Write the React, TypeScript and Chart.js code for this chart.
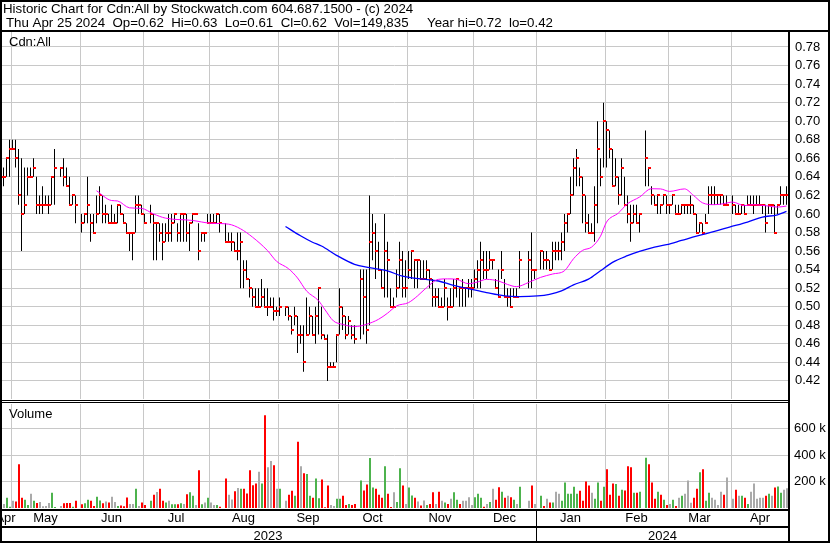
import React, { useEffect, useRef } from "react";
import { Chart, registerables } from "chart.js";

Chart.register(...registerables);

// ---------------- DATA (prices in cents, null = no trade) ----------------
const HI: (number | null)[] = [
  66,65,66,68,68,68,67,66,65,65,
  65,66,64,62,63,62,62,64,67,null,
  65,66,65,64,62,62,null,60,60,64,
  60,60,62,63,62,61,60,61,60,61,
  61,60,59,58,58,62,62,61,60,null,
  61,60,59,59,59,59,60,60,60,59,
  60,60,60,59,60,60,59,58,58,60,
  60,60,60,60,null,59,58,58,57,58,
  58,55,55,53,52,52,52,53,52,52,
  51,51,50,51,null,50,50,49,50,49,
  48,48,51,50,49,50,52,50,47,47,
  44,44,47,52,50,49,49,48,48,null,
  54,54,54,62,60,59,57,54,60,57,
  52,51,54,57,56,55,56,56,55,55,
  55,55,55,54,53,52,52,51,53,51,
  52,53,53,52,53,52,53,53,54,55,
  57,56,56,56,55,53,54,56,53,52,
  52,52,52,56,null,null,56,58,54,null,
  56,56,56,55,57,57,57,58,60,60,
  64,66,67,65,64,62,60,59,63,70,
  66,72,70,69,67,66,64,66,64,62,
  61,61,61,60,null,69,65,63,62,62,
  61,62,62,61,62,61,61,61,61,61,
  62,61,60,59,59,60,63,63,63,62,
  62,62,62,null,62,61,61,61,61,62,
  62,62,62,62,61,61,61,61,61,61,
  63,62,63,
];
const LO: (number | null)[] = [
  63,63,64,64,67,65,61,56,60,62,
  64,64,60,60,60,61,60,61,61,null,
  64,63,63,61,61,59,null,58,59,59,
  57,58,59,60,59,59,59,59,59,59,
  60,59,58,56,55,58,60,60,59,null,
  59,55,55,57,55,57,57,57,59,57,
  57,57,57,56,59,60,55,57,57,59,
  59,59,59,58,null,57,57,56,56,55,
  52,52,53,51,50,50,50,50,50,49,
  50,48.5,49,49,null,49,48.5,47,48,45,
  46,43,47,47,47,46,47,46.5,46.5,42,
  43.5,43.5,44,47,47.5,46.5,47,46.5,46,null,
  46.5,47,46,48,55,53,54,52,51,51,
  50,50,51,52,51,51,53,53,52,52,
  53,53,53,52,50,50,50,50,50,48.5,
  50,50,51,50,50,50,51,51,52,52,
  52,53,53,54,54,52,51,53,51,50,
  50,51,51,52,null,null,52,52,53,null,
  54,54,54,54,54,55,55,55,56,58,
  60,62,63,63,59,58,58,58,57,59,
  63,65,65,66,63,63,61,62,61,59,
  57,59,59,58,null,63,63,61,61,60,
  60,61,60,60,61,60,60,60,60,60,
  60,60,58,58,58,59,60,61,61,61,
  61,61,61,null,60,60,60,60,60,61,
  61,60,61,61,60,58,60,60,58,60,
  61,61,61,
];
const CL: (number | null)[] = [
  64,64,66,67,67,66,62,60,61,64,
  64,65,61,61,61,61,61,64,65,null,
  65,64,63,61,62,61,null,59,60,61,
  59,58,60,62,60,60,59,59,59,61,
  60,59,58,58,58,61,61,60,59,null,
  60,59,59,58,57,58,58,59,60,58,
  60,60,58,59,60,60,56,58,58,59,
  59,59,60,59,null,57,57,57,56,56,
  57,54,53,52,51,50,50,51,50,50,
  50,49.5,49.5,50,null,50,49,47.5,49,47,
  47,44,47,49,47,49,52,47,46.5,43.5,
  43.5,43.5,47,50,49,47,48.5,47,46.5,null,
  53,51,47.5,57,58,56,54,52,56,55,
  50,50,52,55,52,52,54,56,55,55,
  53,53,54,53,51,51,50,50,52,50,
  50,52,53,52,52,52,52,52,53,54,
  55,54,54,55,55,52,51,54,51,51,
  50,51,51,55,null,null,55,54,54,null,
  56,55,55,54,56,56,56,57,59,60,
  62,65,66,64,62,59,58,58,61,67,
  64,70,69,67,63,64,62,65,61,60,
  59,60,59,60,null,66,65,62,61,62,
  61,62,61,61,62,60,60,61,61,61,
  61,60,58,59,58,59,62,62,62,62,
  62,61,61,null,61,60,60,61,60,61,
  61,61,61,61,61,59,61,61,58,61,
  62,62,62,
];
// volume in thousands of shares, 0 = no trade
const VOL_K: number[] = [
  20,31,77,10,54,49,331,77,62,23,
  108,54,38,46,13,15,38,115,8,0,
  15,36,38,38,10,54,0,28,36,62,
  54,15,85,56,36,49,41,85,46,15,
  18,13,79,31,31,146,15,41,23,0,
  54,100,120,146,54,41,54,28,28,28,
  36,31,103,118,92,23,285,28,41,77,
  41,23,23,10,0,223,100,64,126,151,
  146,146,110,285,172,185,274,185,700,308,
  354,323,146,146,0,54,100,131,92,500,
  315,262,256,92,77,223,74,215,5,169,
  23,15,69,69,92,23,31,23,31,0,
  208,133,177,377,154,146,100,77,315,108,
  8,118,46,300,169,31,154,95,77,49,
  18,56,23,31,118,31,123,54,41,31,
  69,118,62,31,54,54,82,23,82,108,
  77,10,31,46,146,62,156,123,77,92,
  82,62,31,161,0,0,54,169,31,0,
  92,15,69,41,41,123,108,54,192,108,
  108,161,108,131,54,200,169,115,69,192,
  54,161,292,100,185,182,92,138,133,315,
  308,115,115,123,0,380,331,192,69,123,
  100,62,23,31,62,15,77,92,108,208,
  40,77,146,269,292,54,115,77,62,23,
  123,100,231,0,69,138,92,92,77,31,
  123,185,69,77,77,92,108,92,154,162,
  115,138,150,
];
const MA20_DAY = [32,37,39,43,47,51,55,64,70,76,80,84,89,92,96,99,102,106,108,111,114,118,122,126,129,132,136,139,142,146,149,152,156,159,162,166,169,172,176,180,184,188,191,194,197,200,202,206,209,213,217,220,223,228,231,234,238,241,244,248,251,256,259,262];
const MA20_VAL = [0.625,0.6145,0.614,0.6066,0.606,0.600,0.5955,0.593,0.590,0.589,0.584,0.575,0.5605,0.549,0.541,0.531,0.517,0.5065,0.4975,0.4846,0.481,0.4785,0.481,0.4864,0.493,0.5008,0.5044,0.5116,0.5205,0.5295,0.530,0.5295,0.5248,0.5266,0.5295,0.5277,0.524,0.5216,0.5261,0.5316,0.5352,0.5388,0.5517,0.5607,0.5642,0.576,0.5912,0.6011,0.611,0.6182,0.6272,0.627,0.6243,0.627,0.620,0.612,0.610,0.611,0.6128,0.609,0.610,0.6085,0.6074,0.6085];
const MA50_DAY = [95,100,104,107,112,118,123,129,134,140,146,151,157,162,168,173,179,183,187,191,196,200,204,209,213,218,222,227,232,238,243,249,254,259,262];
const MA50_VAL = [0.5865,0.5765,0.5695,0.5654,0.5554,0.5457,0.5421,0.5385,0.533,0.530,0.5277,0.523,0.5187,0.5152,0.5116,0.5108,0.5116,0.5134,0.517,0.5236,0.5297,0.5388,0.5478,0.555,0.5596,0.5642,0.5668,0.5714,0.5761,0.5811,0.5858,0.5912,0.5966,0.5991,0.6027];

const MONTH_GRID = [4, 27, 48, 70, 93, 113, 136, 158, 179, 202, 223, 244];
const MONTH_LABELS = ["Apr","May","Jun","Jul","Aug","Sep","Oct","Nov","Dec","Jan","Feb","Mar","Apr"];
const YEAR_LABELS = ["2023", "2024"];
const YEAR_SPLIT = 179;
const PRICE_TICKS = [0.42,0.44,0.46,0.48,0.50,0.52,0.54,0.56,0.58,0.60,0.62,0.64,0.66,0.68,0.70,0.72,0.74,0.76,0.78];
const VOL_TICKS = [200000, 400000, 600000];
const HEADER_1 = "Historic Chart for Cdn:All by Stockwatch.com 604.687.1500 - (c) 2024";
const HEADER_2A = "Thu Apr 25 2024  Op=0.62  Hi=0.63  Lo=0.61  Cl=0.62  Vol=149,835";
const HEADER_2B = "Year hi=0.72  lo=0.42";
const PANEL_LABEL = "Cdn:All";
const VOL_LABEL = "Volume";
const N_DAYS = 263;

// ---------------- STYLE / GEOMETRY ----------------
const W = 830, H = 543;
const TOP = 32, BOTTOM = 508, PLOT_R = 789;
const PX_PER_UNIT = 927.5; // price pixels per 1.00
const P_MAX = 0.78 + (47 - TOP) / PX_PER_UNIT;
const P_MIN = P_MAX - (BOTTOM - TOP) / PX_PER_UNIT;
const V_MAX = ((BOTTOM - TOP) / 26.5) * 200000;
const FONT = '"Liberation Sans", Arial, sans-serif';
const GRID = "#c8c8c8";
const RED = "#ff0000", GREEN = "#4db34d", GREYV = "#aaaaaa";

export default function App() {
  const ref = useRef<HTMLCanvasElement | null>(null);
  useEffect(() => {
    const canvas = ref.current!;
    Chart.defaults.font.family = FONT;

    const ohlc: any[] = [];
    const vols: any[] = [];
    const volColors: string[] = [];
    let prev: number | null = null;
    for (let i = 0; i < N_DAYS; i++) {
      if (HI[i] != null && LO[i] != null) ohlc.push({ x: i, y: [(LO[i] as number) / 100, (HI[i] as number) / 100] });
      const c = CL[i];
      if (VOL_K[i] > 0) {
        vols.push({ x: i, y: VOL_K[i] * 1000 });
        let col = GREYV;
        if (c != null && prev != null) col = c > prev ? GREEN : c < prev ? RED : GREYV;
        volColors.push(col);
      }
      if (c != null) prev = c;
    }
    const ma20 = MA20_DAY.map((d, k) => ({ x: d, y: MA20_VAL[k] }));
    const ma50 = MA50_DAY.map((d, k) => ({ x: d, y: MA50_VAL[k] }));

    const OHLC_INDEX = 2;
    const decor = {
      id: "decor",
      beforeDraw(chart: any) {
        const ctx = chart.ctx;
        ctx.save();
        ctx.fillStyle = "#fff";
        ctx.fillRect(0, 0, W, H);
        ctx.restore();
      },
      afterDatasetDraw(chart: any, args: any) {
        if (args.index !== OHLC_INDEX) return;
        const ctx = chart.ctx;
        const xs = chart.scales.x, ys = chart.scales.yP;
        ctx.save();
        ctx.fillStyle = RED;
        for (let i = 0; i < N_DAYS; i++) {
          const c = CL[i];
          if (c == null) continue;
          const x = Math.round(xs.getPixelForValue(i) - 0.5);
          const y = Math.round(ys.getPixelForValue(c / 100));
          ctx.fillRect(x, y - 1, 3, 2);
        }
        ctx.restore();
      },
      afterDraw(chart: any) {
        const ctx = chart.ctx;
        const xs = chart.scales.x;
        const yv = chart.scales.yV;
        ctx.save();
        ctx.fillStyle = "#000";
        // frame
        ctx.fillRect(0, 0, W, 2);
        ctx.fillRect(0, H - 2, W, 2);
        ctx.fillRect(0, 0, 2, H);
        ctx.fillRect(W - 2, 0, 2, H);
        // header underline
        ctx.fillRect(0, 30, W, 2);
        // right separator
        ctx.fillRect(PLOT_R - 1, 30, 2, H - 30);
        // panel separator (double line)
        ctx.fillStyle = "#fff";
        ctx.fillRect(2, 399, PLOT_R - 3, 5);
        ctx.fillStyle = "#000";
        ctx.fillRect(0, 400, PLOT_R - 1, 1);
        ctx.fillRect(0, 402, PLOT_R - 1, 1);
        // date bands
        ctx.fillRect(0, 509, PLOT_R, 2);
        ctx.fillRect(0, 526, PLOT_R, 2);
        const ySplit = Math.round(xs.getPixelForValue(YEAR_SPLIT - 1 / 3) - 0.5);
        ctx.fillRect(ySplit, 510, 1, H - 510);

        // texts
        ctx.fillStyle = "#000";
        ctx.textBaseline = "alphabetic";
        ctx.textAlign = "left";
        ctx.font = `13.3px ${FONT}`;
        ctx.fillText(HEADER_1, 3, 13);
        ctx.fillText(HEADER_2A, 6, 27);
        ctx.fillText(HEADER_2B, 427, 27);
        ctx.font = `13px ${FONT}`;
        ctx.fillText(PANEL_LABEL, 9, 46);
        ctx.fillText(VOL_LABEL, 9, 418);

        // volume axis labels
        ctx.textBaseline = "middle";
        VOL_TICKS.forEach((v) => {
          ctx.fillText(`${Math.round(v / 1000)} k`, PLOT_R + 5, yv.getPixelForValue(v));
        });
        ctx.textBaseline = "alphabetic";

        // month labels
        const bounds = [0, ...MONTH_GRID.map((g) => Math.round(xs.getPixelForValue(g - 1 / 3) - 0.5)), PLOT_R];
        ctx.textAlign = "center";
        ctx.save();
        ctx.beginPath();
        ctx.rect(2, 511, PLOT_R - 3, 15);
        ctx.clip();
        MONTH_LABELS.forEach((m, k) => {
          const cx = (bounds[k] + bounds[k + 1]) / 2;
          ctx.fillText(m, cx, 522);
        });
        ctx.restore();
        ctx.textAlign = "center";
        ctx.fillText(YEAR_LABELS[0], ySplit / 2, 540);
        ctx.fillText(YEAR_LABELS[1], (ySplit + PLOT_R) / 2, 540);
        ctx.restore();
      },
    };

    const chart = new Chart(canvas, {
      type: "bar",
      data: {
        datasets: [
          {
            type: "line",
            data: ma20 as any,
            xAxisID: "x",
            yAxisID: "yP",
            borderColor: "#ff00ff",
            borderWidth: 1,
            pointRadius: 0,
            cubicInterpolationMode: "monotone",
          } as any,
          {
            type: "line",
            data: ma50 as any,
            xAxisID: "x",
            yAxisID: "yP",
            borderColor: "#0000ff",
            borderWidth: 1.3,
            pointRadius: 0,
            cubicInterpolationMode: "monotone",
          } as any,
          {
            type: "bar",
            data: ohlc as any,
            xAxisID: "x",
            yAxisID: "yP",
            backgroundColor: "#000",
            grouped: false,
            barThickness: 1,
            maxBarThickness: 1,
            inflateAmount: 0,
            borderWidth: 0,
          } as any,
          {
            type: "bar",
            data: vols as any,
            xAxisID: "xV",
            yAxisID: "yV",
            backgroundColor: volColors,
            grouped: false,
            barThickness: 2,
            maxBarThickness: 2,
            inflateAmount: 0,
            borderWidth: 0,
          } as any,
        ],
      },
      options: {
        responsive: false,
        animation: false,
        devicePixelRatio: 1,
        events: [],
        layout: { autoPadding: false, padding: { left: 0, right: 0, top: TOP, bottom: H - BOTTOM } } as any,
        plugins: { legend: { display: false }, tooltip: { enabled: false } },
        scales: {
          x: {
            type: "linear",
            min: -1 / 6,
            max: N_DAYS - 1 / 6,
            offset: false,
            position: "bottom",
            grid: { color: GRID, drawTicks: false, offset: false } as any,
            border: { display: false },
            ticks: { display: false },
            afterBuildTicks: (s: any) => {
              s.ticks = MONTH_GRID.map((v) => ({ value: v - 1 / 3 }));
            },
            afterFit: (s: any) => {
              s.height = 0;
            },
          } as any,
          xV: {
            type: "linear",
            display: false,
            min: -1 / 3,
            max: N_DAYS - 1 / 3,
            offset: false,
          } as any,
          yP: {
            type: "linear",
            position: "right",
            weight: 1,
            min: P_MIN,
            max: P_MAX,
            grid: { color: GRID, drawTicks: false },
            border: { display: false },
            ticks: {
              padding: 6,
              color: "#000",
              font: { size: 13, family: FONT },
              callback: (v: any) => Number(v).toFixed(2),
            },
            afterBuildTicks: (s: any) => {
              s.ticks = PRICE_TICKS.map((v) => ({ value: v }));
            },
            afterFit: (s: any) => {
              s.width = W - PLOT_R;
            },
          } as any,
          yV: {
            type: "linear",
            position: "right",
            weight: 0,
            min: 0,
            max: V_MAX,
            grid: { color: GRID, drawTicks: false },
            border: { display: false },
            ticks: { display: false },
            afterBuildTicks: (s: any) => {
              s.ticks = VOL_TICKS.map((v) => ({ value: v }));
            },
            afterFit: (s: any) => {
              s.width = 0;
            },
          } as any,
        },
      },
      plugins: [decor],
    });
    return () => chart.destroy();
  }, []);

  return (
    <div style={{ position: "absolute", left: 0, top: 0, width: W, height: H, background: "#fff" }}>
      <canvas ref={ref} width={W} height={H} style={{ display: "block", width: W, height: H }} />
    </div>
  );
}
